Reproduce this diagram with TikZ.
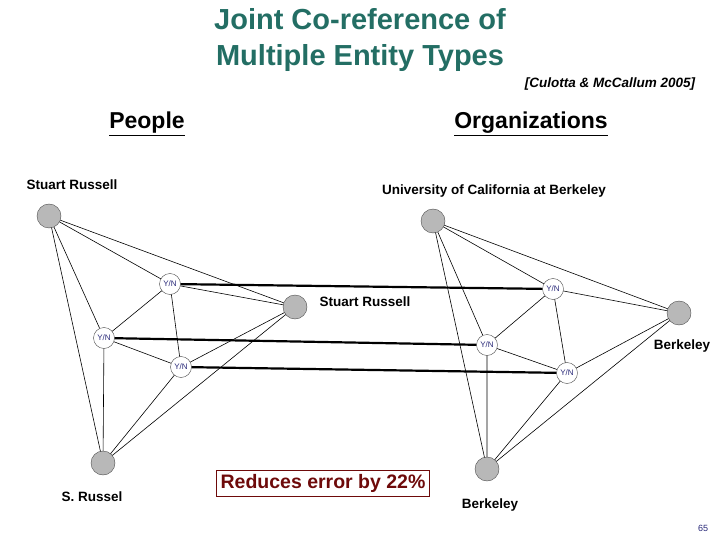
\documentclass[tikz,border=0pt]{standalone}
\usepackage{fontspec}
\setmainfont{Liberation Sans}
\definecolor{ttl}{RGB}{35,110,100}
\definecolor{dred}{RGB}{110,10,10}
\definecolor{yn}{RGB}{40,40,120}
\pgfdeclarelayer{bg}
\pgfsetlayers{bg,main}
\begin{document}
\begin{tikzpicture}[x=1pt,y=-1pt,
 ent/.style={circle,draw=black!70,fill=black!28,minimum size=24pt,inner sep=0pt},
 fac/.style={circle,draw=black!70,fill=white,minimum size=21pt,inner sep=0pt,font=\fontsize{8}{8}\selectfont,text=yn},
 lab/.style={font=\bfseries\fontsize{13.5}{14}\selectfont},
 e/.style={draw,line width=0.6pt},
 tk/.style={draw,line width=2.2pt}]
\useasboundingbox (0,0) rectangle (720,540);
\node[text=ttl,font=\bfseries\fontsize{29}{36}\selectfont,align=center] (title) at (360,40) {Joint Co-reference of\\Multiple Entity Types};
\node[font=\bfseries\itshape\fontsize{13.5}{14}\selectfont] (cite) at (610,84) {[Culotta \& McCallum 2005]};
\node[font=\bfseries\fontsize{23}{23}\selectfont] (ppl) at (147,124) {\underline{People}};
\node[font=\bfseries\fontsize{23}{23}\selectfont] (org) at (531,124) {\underline{Organizations}};
\node[ent] (A) at (49,216) {};
\node[ent] (B) at (295,307) {};
\node[ent] (C) at (103,463) {};
\node[fac] (ab) at (170,284) {Y/N};
\node[fac] (ac) at (104,338) {Y/N};
\node[fac] (bc) at (181,367) {Y/N};
\node[ent] (D) at (433,221) {};
\node[ent] (E) at (679,313) {};
\node[ent] (F) at (487,469) {};
\node[fac] (de) at (553,289) {Y/N};
\node[fac] (df) at (487,345) {Y/N};
\node[fac] (ef) at (567,373) {Y/N};
\node[lab] (lA) at (72,185) {Stuart Russell};
\node[lab] (lB) at (365,302) {Stuart Russell};
\node[lab] (lC) at (92,497) {S. Russel};
\node[lab] (lD) at (494,191) {University of California at Berkeley};
\node[lab] (lE) at (682,346) {Berkeley};
\node[lab] (lF) at (490,505) {Berkeley};
\begin{pgfonlayer}{bg}
\path[e] (A.center)--(B.center) (A.center)--(C.center) (B.center)--(C.center) (A.center)--(ab.center) (ab.center)--(B.center) (A.center)--(ac.center) (ac.center)--(C.center) (B.center)--(bc.center) (bc.center)--(C.center) (ab.center)--(ac.center) (ab.center)--(bc.center) (ac.center)--(bc.center);
\path[e] (D.center)--(E.center) (D.center)--(F.center) (E.center)--(F.center) (D.center)--(de.center) (de.center)--(E.center) (D.center)--(df.center) (df.center)--(F.center) (E.center)--(ef.center) (ef.center)--(F.center) (de.center)--(df.center) (de.center)--(ef.center) (df.center)--(ef.center);
\end{pgfonlayer}
\path[tk] (ab)--(de) (ac)--(df) (bc)--(ef);
\node[draw=dred,text=dred,font=\bfseries\fontsize{19.5}{20}\selectfont,inner sep=4pt,fill=white] (box) at (323,483) {Reduces error by 22\%};
\node[text=yn,font=\fontsize{9}{9}\selectfont] (pg) at (703,528) {65};
\end{tikzpicture}
\end{document}
